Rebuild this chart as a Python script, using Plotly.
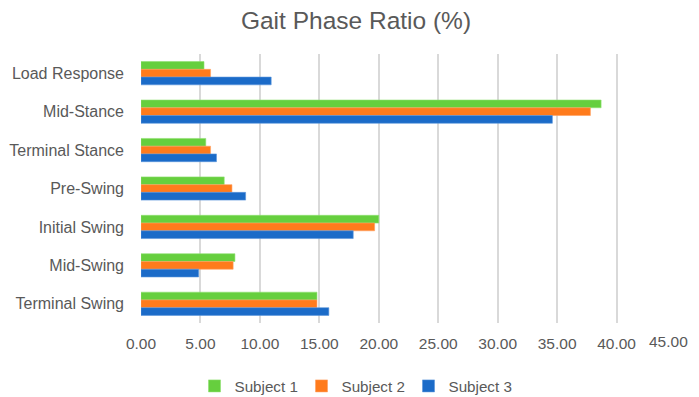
import plotly.graph_objects as go

categories = ["Load Response", "Mid-Stance", "Terminal Stance", "Pre-Swing",
              "Initial Swing", "Mid-Swing", "Terminal Swing"]
subject1 = [5.3, 38.7, 5.45, 7.0, 20.0, 7.9, 14.8]
subject2 = [5.85, 37.8, 5.85, 7.65, 19.65, 7.75, 14.8]
subject3 = [10.95, 34.6, 6.35, 8.8, 17.85, 4.85, 15.8]
tick_vals = [0, 5, 10, 15, 20, 25, 30, 35, 40, 45]
tick_text = ["0.00", "5.00", "10.00", "15.00", "20.00", "25.00", "30.00", "35.00", "40.00", "45.00"]

series = [("Subject 1", subject1, "#66cf3e", "#8fe070"),
          ("Subject 2", subject2, "#ff7b1c", "#ffa060"),
          ("Subject 3", subject3, "#1b6bc8", "#5a95dc")]

fig = go.Figure()
for name, vals, col, edge in series:
    fig.add_trace(go.Bar(y=categories, x=vals, name=name, orientation="h",
                         marker=dict(color=col, line=dict(color=edge, width=0.6))))

font = "Liberation Sans, Arial, sans-serif"
W, H = 699, 389
tick_size = 15.5
# last tick label is drawn as an annotation, right-aligned so it stays inside the visible page
shown_ticks = tick_text[:-1] + [""]
fig.update_layout(
    width=W, height=H,
    paper_bgcolor="white", plot_bgcolor="white",
    barmode="group", bargap=0.395, bargroupgap=0,
    margin=dict(l=133, r=W - 668, t=46, b=74, autoexpand=False),
    title=dict(text="Gait Phase Ratio (%)", x=348 / W, xanchor="center", xref="container",
               y=1 - 12 / H, yanchor="middle", yref="container",
               font=dict(family=font, size=24.5, color="#595959")),
    font=dict(family=font, size=15, color="#595959"),
    legend=dict(orientation="h", x=347 / W, xanchor="center", xref="container",
                y=11 / H, yref="container", yanchor="middle",
                font=dict(size=15.2, color="#595959"), itemwidth=30,
                entrywidth=62, entrywidthmode="pixels", traceorder="normal"),
    showlegend=True,
)
fig.add_annotation(x=tick_vals[-1], xref="x", y=0, yref="paper", yanchor="top",
                   xanchor="right", xshift=14, yshift=-8, showarrow=False,
                   text=tick_text[-1], font=dict(family=font, size=tick_size, color="#595959"))
fig.update_xaxes(range=[0, 45], tickvals=tick_vals, ticktext=shown_ticks, automargin=False,
                 showgrid=True, gridcolor="#d9d9d9", gridwidth=1.5, zeroline=False,
                 showline=False, ticks="", ticklabelstandoff=9,
                 tickfont=dict(size=tick_size, color="#595959"))
fig.update_yaxes(autorange="reversed", showgrid=False, showline=False, ticks="",
                 automargin=False, ticklabelstandoff=16,
                 tickfont=dict(size=16, color="#595959"))

fig.write_html("out.html")
